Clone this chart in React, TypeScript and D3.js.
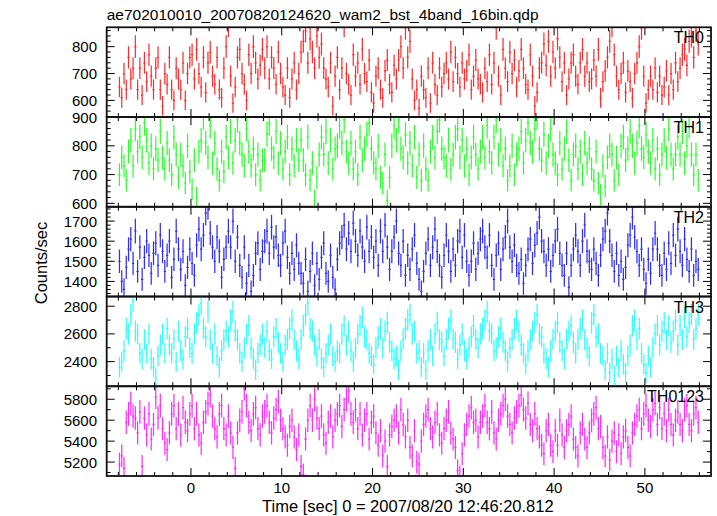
import React from "react";
import * as d3 from "d3";

// ---- data (count rates, bins of 0.25 s starting at -8 s) ----
const BIN_START = -7.875;
const BIN_WIDTH = 0.25;

const th0: number[] = [
  650, 610, 700, 640, 760, 680, 720, 800, 640, 720, 620, 740, 670, 770, 690, 640,
  720, 760, 640, 580, 700, 660, 760, 640, 600, 720, 680, 640, 740, 600, 700, 760,
  770, 680, 790, 700, 650, 760, 630, 740, 780, 690, 660, 760, 640, 610, 720, 800,
  880, 690, 590, 650, 760, 790, 700, 660, 600, 770, 700, 800, 740, 680, 730, 790,
  720, 800, 680, 760, 720, 660, 780, 700, 650, 620, 720, 610, 680, 740, 640, 700,
  780, 820, 860, 740, 830, 780, 720, 840, 760, 810, 720, 680, 650, 740, 580, 690,
  760, 640, 720, 880, 700, 660, 620, 770, 690, 740, 660, 790, 700, 670, 750, 630,
  590, 690, 720, 640, 610, 710, 750, 660, 630, 730, 680, 750, 800, 720, 870, 760,
  820, 680, 600, 640, 570, 690, 640, 610, 720, 590, 740, 660, 620, 720, 650, 700,
  740, 680, 780, 670, 760, 700, 650, 740, 680, 710, 770, 640, 690, 750, 680, 660,
  630, 720, 670, 770, 660, 740, 870, 690, 620, 790, 720, 670, 780, 700, 750, 650,
  710, 790, 720, 660, 640, 770, 690, 580, 630, 720, 740, 810, 730, 820, 690, 780,
  720, 830, 760, 670, 740, 620, 680, 740, 770, 690, 660, 740, 790, 690, 740, 670,
  680, 750, 690, 790, 610, 670, 710, 760, 820, 880, 770, 690, 640, 700, 740, 630,
  710, 670, 610, 700, 740, 800, 870, 690, 590, 640, 690, 640, 720, 630, 690, 620,
  650, 710, 620, 700, 640, 740, 670, 720, 770, 790, 730, 820, 840, 760, 860, 810,
];

const th1: number[] = [
  700, 760, 730, 680, 780, 820, 730, 860, 780, 830, 760, 880, 820, 740, 800, 720,
  790, 750, 850, 760, 720, 810, 750, 700, 830, 770, 690, 770, 730, 670, 800, 710,
  650, 750, 620, 780, 820, 900, 810, 760, 870, 740, 810, 720, 680, 780, 710, 830,
  760, 850, 740, 820, 890, 810, 770, 730, 860, 780, 730, 790, 700, 770, 680, 750,
  750, 840, 880, 790, 760, 850, 740, 810, 720, 780, 830, 700, 790, 730, 820, 750,
  820, 750, 700, 830, 680, 740, 610, 690, 770, 830, 770, 850, 740, 820, 720, 790,
  800, 870, 810, 890, 780, 740, 810, 720, 780, 700, 830, 750, 790, 840, 880, 790,
  740, 720, 800, 690, 670, 770, 610, 690, 800, 870, 820, 890, 790, 760, 840, 740,
  810, 730, 830, 690, 770, 680, 800, 720, 680, 780, 830, 760, 850, 890, 790, 760,
  730, 820, 720, 770, 830, 860, 760, 820, 730, 790, 700, 760, 830, 770, 720, 780,
  830, 760, 870, 780, 740, 830, 890, 770, 820, 730, 790, 680, 730, 800, 700, 770,
  790, 850, 740, 820, 880, 810, 780, 860, 900, 790, 750, 840, 740, 800, 860, 770,
  740, 700, 810, 720, 790, 850, 750, 680, 770, 800, 720, 780, 700, 810, 740, 790,
  720, 680, 780, 670, 630, 730, 660, 760, 800, 770, 680, 760, 700, 800, 830, 750,
  790, 850, 800, 740, 810, 870, 790, 760, 840, 780, 740, 820, 720, 790, 700, 770,
  820, 760, 860, 770, 720, 770, 830, 770, 850, 740, 800, 870, 770, 700, 770, 680,
];

const th2: number[] = [
  1500, 1400, 1360, 1470, 1560, 1610, 1490, 1650, 1450, 1570, 1410, 1520, 1600, 1530, 1440, 1540,
  1590, 1480, 1630, 1550, 1450, 1530, 1600, 1420, 1510, 1650, 1560, 1460, 1550, 1380, 1470, 1560,
  1490, 1430, 1580, 1660, 1560, 1630, 1740, 1770, 1640, 1570, 1500, 1620, 1550, 1420, 1510, 1570,
  1650, 1570, 1700, 1500, 1620, 1480, 1420, 1570, 1390, 1480, 1350, 1430, 1540, 1590, 1460, 1550,
  1600, 1650, 1540, 1670, 1570, 1620, 1530, 1480, 1590, 1650, 1520, 1440, 1540, 1460, 1580, 1490,
  1440, 1390, 1510, 1350, 1450, 1540, 1380, 1490, 1410, 1520, 1590, 1440, 1400, 1530, 1420, 1360,
  1510, 1590, 1620, 1680, 1560, 1640, 1550, 1690, 1600, 1530, 1650, 1570, 1500, 1670, 1550, 1620,
  1520, 1600, 1480, 1650, 1550, 1680, 1570, 1460, 1550, 1620, 1700, 1540, 1480, 1600, 1430, 1530,
  1460, 1560, 1630, 1490, 1410, 1350, 1450, 1540, 1610, 1480, 1570, 1660, 1550, 1480, 1420, 1530,
  1630, 1550, 1450, 1560, 1480, 1600, 1650, 1520, 1630, 1500, 1430, 1500, 1590, 1460, 1540, 1610,
  1650, 1570, 1520, 1630, 1480, 1410, 1530, 1590, 1460, 1560, 1620, 1700, 1570, 1500, 1580, 1480,
  1440, 1510, 1390, 1480, 1560, 1610, 1490, 1580, 1640, 1720, 1600, 1550, 1480, 1560, 1450, 1530,
  1600, 1660, 1540, 1480, 1430, 1540, 1370, 1480, 1560, 1630, 1550, 1480, 1600, 1680, 1550, 1500,
  1460, 1560, 1490, 1430, 1530, 1610, 1650, 1740, 1600, 1530, 1450, 1540, 1430, 1500, 1410, 1470,
  1580, 1630, 1720, 1620, 1550, 1480, 1560, 1460, 1390, 1510, 1440, 1560, 1640, 1560, 1480, 1430,
  1540, 1460, 1590, 1490, 1630, 1530, 1660, 1550, 1480, 1610, 1510, 1450, 1560, 1430, 1500, 1460,
];

const th3: number[] = [
  2360, 2400, 2480, 2640, 2600, 2740, 2840, 2620, 2600, 2460, 2420, 2560, 2460, 2600, 2420, 2360,
  2280, 2440, 2520, 2600, 2460, 2640, 2520, 2460, 2560, 2400, 2620, 2480, 2420, 2580, 2640, 2500,
  2460, 2600, 2680, 2740, 2820, 2640, 2580, 2760, 2560, 2460, 2600, 2440, 2360, 2480, 2560, 2620,
  2580, 2700, 2760, 2620, 2560, 2460, 2400, 2500, 2600, 2660, 2500, 2420, 2340, 2460, 2520, 2600,
  2500, 2620, 2480, 2420, 2580, 2640, 2540, 2460, 2400, 2520, 2560, 2640, 2700, 2560, 2480, 2420,
  2560, 2660, 2740, 2820, 2640, 2620, 2520, 2440, 2560, 2420, 2360, 2460, 2520, 2600, 2440, 2400,
  2480, 2460, 2600, 2660, 2520, 2620, 2480, 2400, 2500, 2600, 2660, 2720, 2580, 2560, 2460, 2440,
  2380, 2500, 2580, 2640, 2500, 2620, 2680, 2540, 2480, 2420, 2440, 2340, 2480, 2560, 2640, 2700,
  2740, 2600, 2620, 2460, 2480, 2360, 2460, 2340, 2480, 2560, 2440, 2600, 2680, 2560, 2540, 2440,
  2560, 2640, 2700, 2560, 2540, 2420, 2520, 2600, 2480, 2420, 2500, 2580, 2660, 2560, 2500, 2600,
  2640, 2700, 2760, 2620, 2600, 2480, 2500, 2580, 2640, 2540, 2480, 2400, 2500, 2560, 2640, 2700,
  2620, 2520, 2460, 2380, 2480, 2560, 2620, 2680, 2740, 2600, 2580, 2460, 2420, 2360, 2480, 2560,
  2620, 2680, 2540, 2480, 2420, 2560, 2620, 2660, 2540, 2460, 2560, 2640, 2700, 2560, 2500, 2440,
  2680, 2740, 2580, 2600, 2460, 2440, 2340, 2460, 2320, 2420, 2300, 2440, 2360, 2480, 2380, 2320,
  2440, 2520, 2660, 2700, 2560, 2640, 2460, 2380, 2320, 2440, 2360, 2500, 2600, 2660, 2520, 2620,
  2680, 2560, 2660, 2540, 2620, 2700, 2520, 2660, 2560, 2720, 2580, 2680, 2740, 2560, 2640, 2740,
];

const th0123: number[] = [
  5180, 5260, 5140, 5580, 5660, 5760, 5640, 5620, 5480, 5680, 5160, 5620, 5460, 5660, 5420, 5560,
  5820, 5620, 5740, 5520, 5380, 5320, 5480, 5660, 5740, 5520, 5660, 5460, 5720, 5580, 5500, 5660,
  5740, 5520, 5660, 5460, 5380, 5580, 5680, 5760, 5840, 5640, 5520, 5440, 5660, 5740, 5520, 5460,
  5640, 5480, 5340, 5140, 5480, 5600, 5680, 5900, 5740, 5580, 5500, 5660, 5720, 5520, 5460, 5640,
  5680, 5740, 5580, 5480, 5620, 5700, 5780, 5600, 5520, 5440, 5360, 5540, 5600, 5440, 5320, 5460,
  5160, 5080, 5420, 5600, 5740, 5600, 5800, 5620, 5520, 5640, 5460, 5380, 5580, 5640, 5440, 5600,
  5660, 5740, 5540, 5700, 5800, 5880, 5660, 5580, 5700, 5520, 5660, 5460, 5600, 5660, 5420, 5580,
  5640, 5480, 5360, 5500, 5260, 5400, 5160, 5460, 5540, 5600, 5640, 5480, 5700, 5560, 5440, 5600,
  5340, 5260, 5500, 5200, 5180, 5400, 5560, 5640, 5700, 5520, 5440, 5580, 5660, 5460, 5380, 5520,
  5600, 5680, 5480, 5420, 5340, 5120, 5060, 5280, 5460, 5560, 5640, 5720, 5580, 5600, 5440, 5580,
  5640, 5740, 5580, 5520, 5680, 5480, 5420, 5600, 5660, 5740, 5800, 5640, 5560, 5480, 5620, 5680,
  5740, 5840, 5700, 5620, 5760, 5560, 5500, 5660, 5520, 5440, 5360, 5280, 5500, 5560, 5360, 5300,
  5500, 5360, 5600, 5460, 5340, 5500, 5560, 5640, 5420, 5340, 5260, 5480, 5560, 5420, 5340, 5480,
  5600, 5660, 5720, 5520, 5540, 5340, 5260, 5440, 5220, 5400, 5480, 5300, 5460, 5280, 5440, 5500,
  5340, 5260, 5480, 5560, 5640, 5700, 5520, 5660, 5740, 5600, 5540, 5700, 5760, 5560, 5720, 5520,
  5660, 5500, 5700, 5560, 5460, 5600, 5680, 5560, 5500, 5700, 5740, 5560, 5500, 5660, 5720, 5580,
];

const panelNames = ["TH0", "TH1", "TH2", "TH3", "TH0123"];
const panelSeries = [th0, th1, th2, th3, th0123];
const panelDomains: [number, number][] = [
  [538, 872],
  [588, 900],
  [1325, 1771],
  [2222, 2870],
  [5067, 5924],
];
const panelMajorTicks = [
  [600, 700, 800],
  [600, 700, 800, 900],
  [1400, 1500, 1600, 1700],
  [2400, 2600, 2800],
  [5200, 5400, 5600, 5800],
];
const panelMinorSteps = [20, 20, 20, 100, 100];
const panelColors = ["#ff0000", "#00ff00", "#0000ff", "#00ffff", "#ff00ff"];

const xDomain: [number, number] = [-9.28, 57.28];
const xMajorTicks = [0, 10, 20, 30, 40, 50];
const xMinorStep = 2;

const titleText = "ae702010010_20070820124620_wam2_bst_4band_16bin.qdp";
const xLabel = "Time [sec] 0 = 2007/08/20 12:46:20.812";
const yLabel = "Counts/sec";

// ---- layout ----
const W = 717;
const H = 516;
const LEFT = 106.7;
const RIGHT = 711;
const TOP = 27.3;
const BOTTOM = 476;
const FONT = "'Liberation Sans', Arial, Helvetica, sans-serif";

export default function App() {
  const x = d3.scaleLinear().domain(xDomain).range([LEFT, RIGHT]);
  const panelH = (BOTTOM - TOP) / panelNames.length;

  const xMinor = d3.range(Math.ceil(xDomain[0] / xMinorStep) * xMinorStep, xDomain[1], xMinorStep);

  return (
    <svg
      width={W}
      height={H}
      style={{ position: "absolute", left: 0, top: 0, background: "#fff" }}
      fontFamily={FONT}
    >
      <rect x={0} y={0} width={W} height={H} fill="#fff" />
      <defs>
        {panelNames.map((n, i) => (
          <clipPath id={`clip${i}`} key={n}>
            <rect x={LEFT} y={TOP + i * panelH} width={RIGHT - LEFT} height={panelH} />
          </clipPath>
        ))}
      </defs>

      {panelNames.map((name, i) => {
        const y0 = TOP + i * panelH;
        const y1 = y0 + panelH;
        const dom = panelDomains[i];
        const y = d3.scaleLinear().domain(dom).range([y1, y0]);
        const data = panelSeries[i];
        let d = "";
        data.forEach((v, k) => {
          const t = BIN_START + k * BIN_WIDTH;
          const err = 1.5 * Math.sqrt(v);
          const xa = x(t - BIN_WIDTH / 2);
          const xb = x(t + BIN_WIDTH / 2);
          const xc = x(t);
          d += `M${xa.toFixed(2)},${y(v).toFixed(2)}H${xb.toFixed(2)}`;
          d += `M${xc.toFixed(2)},${y(v - err).toFixed(2)}V${y(v + err).toFixed(2)}`;
        });
        const step = panelMinorSteps[i];
        const minor = d3
          .range(Math.ceil(dom[0] / step) * step, dom[1] + 1e-9, step)
          .filter((m) => !panelMajorTicks[i].includes(m));
        return (
          <g key={name}>
            <path
              d={d}
              stroke={panelColors[i]}
              strokeOpacity={0.82}
              strokeWidth={1.25}
              fill="none"
              clipPath={`url(#clip${i})`}
            />
            {panelMajorTicks[i].map((m) => (
              <g key={`M${m}`}>
                <line x1={LEFT} x2={LEFT + 8} y1={y(m)} y2={y(m)} stroke="#000" strokeWidth={1} />
                <line x1={RIGHT} x2={RIGHT - 8} y1={y(m)} y2={y(m)} stroke="#000" strokeWidth={1} />
                <text x={97} y={y(m) + 5.5} textAnchor="end" fontSize={15} fill="#000">
                  {m}
                </text>
              </g>
            ))}
            {minor.map((m) => (
              <g key={`m${m}`}>
                <line x1={LEFT} x2={LEFT + 4} y1={y(m)} y2={y(m)} stroke="#000" strokeWidth={1} />
                <line x1={RIGHT} x2={RIGHT - 4} y1={y(m)} y2={y(m)} stroke="#000" strokeWidth={1} />
              </g>
            ))}
            {xMajorTicks.map((t) => (
              <g key={`xt${t}`}>
                <line x1={x(t)} x2={x(t)} y1={y0} y2={y0 + 8} stroke="#000" strokeWidth={1} />
                <line x1={x(t)} x2={x(t)} y1={y1} y2={y1 - 8} stroke="#000" strokeWidth={1} />
              </g>
            ))}
            {xMinor
              .filter((t) => !xMajorTicks.includes(t))
              .map((t) => (
                <g key={`xm${t}`}>
                  <line x1={x(t)} x2={x(t)} y1={y0} y2={y0 + 4} stroke="#000" strokeWidth={1} />
                  <line x1={x(t)} x2={x(t)} y1={y1} y2={y1 - 4} stroke="#000" strokeWidth={1} />
                </g>
              ))}
            <text x={704} y={y0 + 16} textAnchor="end" fontSize={16} fill="#000">
              {name}
            </text>
            <rect x={LEFT} y={y0} width={RIGHT - LEFT} height={panelH} fill="none" stroke="#111" strokeWidth={1.8} />
          </g>
        );
      })}

      {xMajorTicks.map((t) => (
        <text key={`xl${t}`} x={x(t)} y={493} textAnchor="middle" fontSize={15} fill="#000">
          {t}
        </text>
      ))}

      <text x={LEFT} y={20} fontSize={15.5} fill="#000">
        {titleText}
      </text>
      <text x={(LEFT + RIGHT) / 2 - 1} y={511.5} textAnchor="middle" fontSize={16.5} fill="#000">
        {xLabel}
      </text>
      <text transform={`translate(46.5, 263) rotate(-90)`} textAnchor="middle" fontSize={16.5} fill="#000">
        {yLabel}
      </text>
    </svg>
  );
}
